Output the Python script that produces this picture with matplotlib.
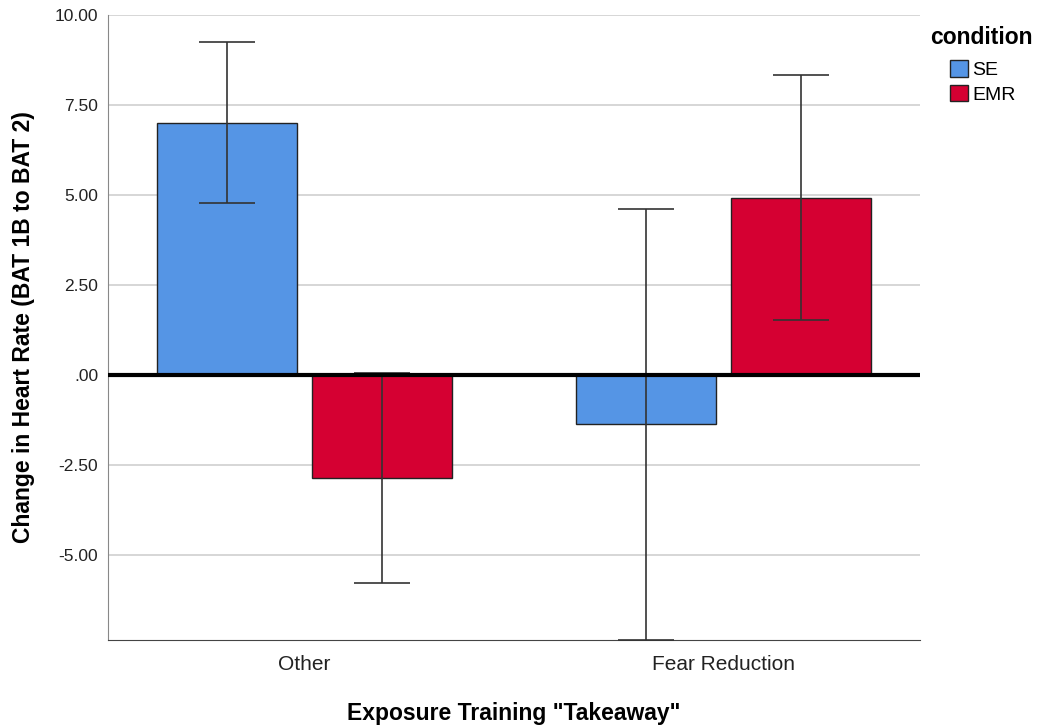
import numpy as np
import matplotlib
matplotlib.use("Agg")
import matplotlib.pyplot as plt
import matplotlib.patches as mpatches

plt.rcParams['font.family'] = ['Liberation Sans', 'DejaVu Sans']

categories = ["Other", "Fear Reduction"]
conditions = ["SE", "EMR"]
means = {"SE": [7.00, -1.36], "EMR": [-2.86, 4.92]}
ci_low = {"SE": [4.78, -7.36], "EMR": [-5.78, 1.53]}
ci_high = {"SE": [9.25, 4.61], "EMR": [0.06, 8.33]}
colors = {"SE": "#5595E5", "EMR": "#D50032"}

fig = plt.figure(figsize=(10.42, 7.27), dpi=100)
ax = fig.add_axes([0.1036, 0.1197, 0.7795, 0.8597])

x = np.arange(len(categories))
width = 0.334
gap = 0.036
offsets = {"SE": -(width + gap) / 2, "EMR": (width + gap) / 2}

for c in conditions:
    m = np.array(means[c])
    lo = m - np.array(ci_low[c])
    hi = np.array(ci_high[c]) - m
    ax.bar(x + offsets[c], m, width, color=colors[c], edgecolor="#222222",
           linewidth=1, zorder=2)
    ax.errorbar(x + offsets[c], m, yerr=[lo, hi], fmt="none", ecolor="#333333",
                elinewidth=1.2, capsize=20, capthick=1.2, zorder=3)

ax.axhline(0, color="black", linewidth=3, zorder=4)

ax.set_xlim(-0.468, 1.47)
ax.set_ylim(-7.36, 10)
ax.set_yticks([-5, -2.5, 0, 2.5, 5, 7.5, 10])
ax.set_yticklabels(["-5.00", "-2.50", ".00", "2.50", "5.00", "7.50", "10.00"])
ax.set_xticks(x)
ax.set_xticklabels(categories)
ax.tick_params(axis="y", length=0, labelsize=12.5, colors="#222222", pad=7)
ax.tick_params(axis="x", length=0, labelsize=15, colors="#222222", pad=11)
ax.yaxis.grid(True, color="#D0D0D0", linewidth=1.2, zorder=0)
ax.set_axisbelow(True)

for s in ["top", "right"]:
    ax.spines[s].set_visible(False)
ax.spines["left"].set_color("#888888")
ax.spines["bottom"].set_color("#444444")

ax.set_ylabel("Change in Heart Rate (BAT 1B to BAT 2)", fontsize=16.5,
              fontweight="bold", labelpad=14)
ax.set_xlabel('Exposure Training "Takeaway"', fontsize=16.5, fontweight="bold",
              labelpad=20)

fig.text(930 / 1042, 1 - 38 / 727, "condition", fontsize=16.5,
         fontweight="bold", va="center", ha="left")
handles = [mpatches.Patch(facecolor=colors[c], edgecolor="#222222", label=c)
           for c in conditions]
fig.legend(handles=handles, loc="upper left",
           bbox_to_anchor=(950 / 1042, 1 - 60 / 727), frameon=False,
           fontsize=14, borderpad=0, borderaxespad=0,
           handlelength=0.93, handleheight=0.93, handletextpad=0.2,
           labelspacing=0.3)

fig.savefig("out.png", dpi=100)
